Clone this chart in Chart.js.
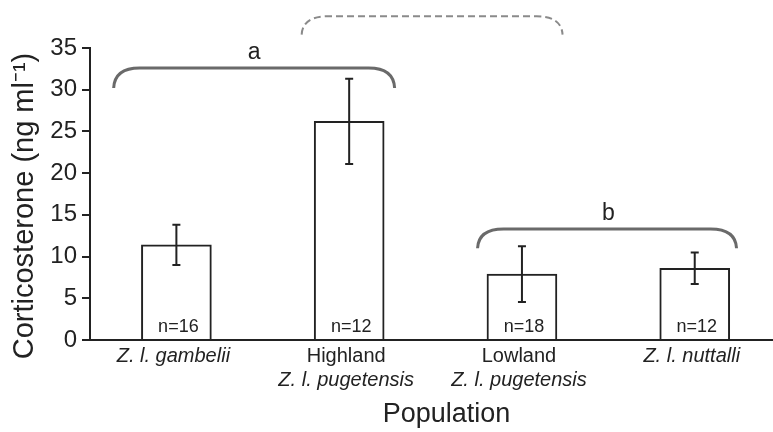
<!DOCTYPE html>
<html>
<head>
<meta charset="utf-8">
<script src="https://cdn.jsdelivr.net/npm/chart.js@4.4.1/dist/chart.umd.min.js"></script>
<style>
  html, body { margin: 0; padding: 0; background: #fff; }
  #wrap { width: 773px; height: 432px; position: relative; }
</style>
</head>
<body>
<div id="wrap"><canvas id="c" width="773" height="432"></canvas></div>
<script>
// ---- Data ----
const categories = [
  ['Z. l. gambelii'],
  ['Highland', 'Z. l. pugetensis'],
  ['Lowland', 'Z. l. pugetensis'],
  ['Z. l. nuttalli']
];
const means = [11.4, 26.2, 7.9, 8.6];
const errors = [2.4, 5.1, 3.35, 1.9];
const sampleSizes = [16, 12, 18, 12];
const yTicks = [0, 5, 10, 15, 20, 25, 30, 35];
const groupLetters = ['a', 'b'];
const yTitle = 'Corticosterone (ng ml\u207B\u00B9)';
const xTitle = 'Population';

const FONT = 'Liberation Sans, Arial, Helvetica, sans-serif';
const INK = '#222';

const annot = {
  id: 'annot',
  afterDatasetsDraw(chart) {
    const ctx = chart.ctx;
    const xs = chart.scales.x, ys = chart.scales.y;
    const area = chart.chartArea;
    const X = v => xs.getPixelForValue(v);
    const Y = v => ys.getPixelForValue(v);
    ctx.save();

    // error bars
    ctx.strokeStyle = INK;
    ctx.lineWidth = 2;
    means.forEach((m, i) => {
      const cx = X(i);
      const yt = Y(m + errors[i]), yb = Y(m - errors[i]);
      ctx.beginPath();
      ctx.moveTo(cx, yt); ctx.lineTo(cx, yb);
      ctx.moveTo(cx - 4, yt); ctx.lineTo(cx + 4, yt);
      ctx.moveTo(cx - 4, yb); ctx.lineTo(cx + 4, yb);
      ctx.stroke();
    });

    // n labels
    ctx.fillStyle = INK;
    ctx.font = '18px ' + FONT;
    ctx.textAlign = 'center';
    ctx.textBaseline = 'alphabetic';
    sampleSizes.forEach((n, i) => {
      ctx.fillText('n=' + n, X(i) + 2, area.bottom - 8);
    });

    // braces
    const brace = (x0, x1, yTop, yEnd) => {
      const l = X(x0), r = X(x1), t = Y(yTop), e = Y(yEnd);
      const rad = 26;
      ctx.beginPath();
      ctx.moveTo(l, e);
      ctx.quadraticCurveTo(l + 1, t, l + rad, t);
      ctx.lineTo(r - rad, t);
      ctx.quadraticCurveTo(r - 1, t, r, e);
      ctx.stroke();
    };
    ctx.strokeStyle = '#6a6a6a';
    ctx.lineWidth = 3;
    ctx.setLineDash([]);
    brace(-0.363, 1.263, 32.6, 30.2);
    brace(1.743, 3.242, 13.3, 11.0);
    ctx.strokeStyle = '#8a8a8a';
    ctx.lineWidth = 2;
    ctx.setLineDash([7, 4]);
    brace(0.725, 2.235, 38.8, 36.6);
    ctx.setLineDash([]);

    // group letters
    ctx.fillStyle = INK;
    ctx.font = '23px ' + FONT;
    ctx.textBaseline = 'middle';
    ctx.fillText(groupLetters[0], X(0.45), Y(34.4));
    ctx.fillText(groupLetters[1], X(2.5), Y(15.2));

    // category labels
    ctx.textBaseline = 'middle';
    categories.forEach((lines, i) => {
      lines.forEach((txt, k) => {
        const italic = txt.startsWith('Z.');
        ctx.font = (italic ? 'italic ' : '') + '20px ' + FONT;
        ctx.fillText(txt, X(i) - 3, area.bottom + 16 + k * 24);
      });
    });

    // axis titles
    ctx.font = '27px ' + FONT;
    ctx.fillText(xTitle, (area.left + area.right) / 2 + 15, area.bottom + 75);
    ctx.save();
    ctx.translate(25, (area.top + area.bottom) / 2 + 12);
    ctx.rotate(-Math.PI / 2);
    ctx.font = '29px ' + FONT;
    ctx.fillText(yTitle, 0, 0);
    ctx.restore();

    ctx.restore();
  }
};

const bg = {
  id: 'bg',
  beforeDraw(chart) {
    const ctx = chart.ctx;
    ctx.save();
    ctx.fillStyle = '#fff';
    ctx.fillRect(0, 0, chart.width, chart.height);
    ctx.restore();
  }
};

new Chart(document.getElementById('c'), {
  type: 'bar',
  data: {
    datasets: [{
      data: means.map((m, i) => ({ x: i, y: m })),
      backgroundColor: '#fff',
      borderColor: INK,
      borderWidth: 2,
      barThickness: 70
    }]
  },
  options: {
    responsive: false,
    animation: false,
    events: [],
    layout: { padding: { top: 48, left: 0, right: 0, bottom: 0 } },
    plugins: { legend: { display: false }, tooltip: { enabled: false } },
    scales: {
      x: {
        type: 'linear',
        offset: false,
        min: -0.5,
        max: 3.453,
        grid: { display: false },
        border: { display: true, color: INK, width: 2 },
        ticks: { display: false },
        afterFit: s => { s.height = 92; }
      },
      y: {
        min: 0,
        max: 35,
        afterBuildTicks: s => { s.ticks = yTicks.map(v => ({ value: v })); },
        ticks: { color: INK, font: { family: FONT, size: 24 }, padding: 5 },
        grid: { drawOnChartArea: false, drawTicks: true, tickLength: 8, color: INK, lineWidth: 2 },
        border: { display: true, color: INK, width: 2 },
        afterFit: s => { s.width = 90; }
      }
    }
  },
  plugins: [bg, annot]
});
</script>
</body>
</html>
